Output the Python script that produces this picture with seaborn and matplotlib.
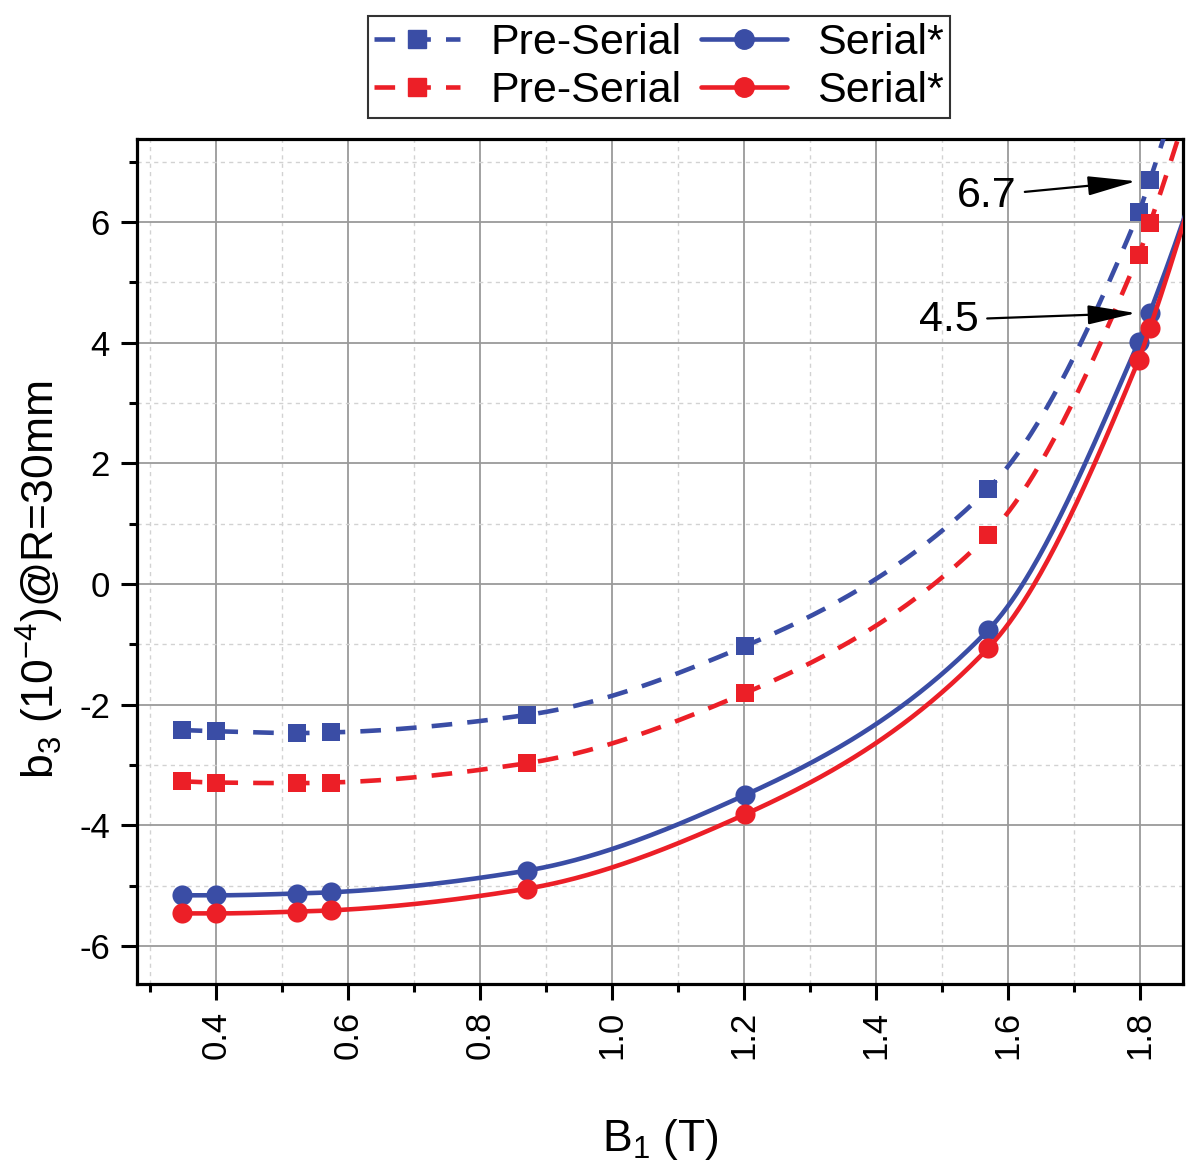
import numpy as np
import pandas as pd
import seaborn as sns
import matplotlib
matplotlib.use("Agg")
import matplotlib.pyplot as plt
from matplotlib.lines import Line2D
from matplotlib.ticker import MultipleLocator, FormatStrFormatter

# Measured sextupole b3 versus central field B1
b1 = [0.348, 0.400, 0.523, 0.574, 0.871, 1.201, 1.570, 1.798, 1.815]
pre_serial_blue = [-2.42, -2.44, -2.47, -2.46, -2.17, -1.03, 1.58, 6.16, 6.7]
pre_serial_red = [-3.27, -3.29, -3.30, -3.29, -2.97, -1.81, 0.81, 5.46, 5.98]
serial_blue = [-5.16, -5.16, -5.13, -5.11, -4.75, -3.50, -0.76, 4.02, 4.5]
serial_red = [-5.46, -5.46, -5.43, -5.41, -5.05, -3.82, -1.06, 3.72, 4.25]

x_ticks = [0.4, 0.6, 0.8, 1.0, 1.2, 1.4, 1.6, 1.8]
y_ticks = [-6, -4, -2, 0, 2, 4, 6]

BLUE = "#3A4DA5"
RED = "#EC1F27"

sns.set_theme(style="white")
plt.rcParams["font.family"] = ["Liberation Sans", "DejaVu Sans"]
plt.rcParams["mathtext.fontset"] = "custom"
plt.rcParams["mathtext.rm"] = "Liberation Sans"
plt.rcParams["mathtext.default"] = "regular"
plt.rcParams["axes.unicode_minus"] = False
plt.rcParams["text.color"] = "black"
plt.rcParams["axes.labelcolor"] = "black"
plt.rcParams["xtick.color"] = "black"
plt.rcParams["ytick.color"] = "black"

XMIN, XMAX = 0.2803, 1.865
YMIN, YMAX = -6.63, 7.378


def pchip(x, y, xs):
    """Shape-preserving cubic Hermite curve through the measured points."""
    x = np.asarray(x, float)
    y = np.asarray(y, float)
    h = np.diff(x)
    d = np.diff(y) / h
    n = len(x)
    m = np.zeros(n)
    for k in range(1, n - 1):
        if d[k - 1] * d[k] > 0:
            w1 = 2 * h[k] + h[k - 1]
            w2 = h[k] + 2 * h[k - 1]
            m[k] = (w1 + w2) / (w1 / d[k - 1] + w2 / d[k])
    m[0] = ((2 * h[0] + h[1]) * d[0] - h[0] * d[1]) / (h[0] + h[1])
    if np.sign(m[0]) != np.sign(d[0]):
        m[0] = 0
    m[-1] = ((2 * h[-1] + h[-2]) * d[-1] - h[-1] * d[-2]) / (h[-1] + h[-2])
    if np.sign(m[-1]) != np.sign(d[-1]):
        m[-1] = 0
    idx = np.clip(np.searchsorted(x, xs) - 1, 0, n - 2)
    t = (xs - x[idx]) / h[idx]
    h00 = 2 * t**3 - 3 * t**2 + 1
    h10 = t**3 - 2 * t**2 + t
    h01 = -2 * t**3 + 3 * t**2
    h11 = t**3 - t**2
    return h00 * y[idx] + h10 * h[idx] * m[idx] + h01 * y[idx + 1] + h11 * h[idx] * m[idx + 1]


def curve(x, y):
    """Smooth curve through the points, continued to the right edge of the axes."""
    xs = np.linspace(x[0], x[-1], 400)
    ys = pchip(x, y, xs)
    # continue past the last point with the quadratic through the last three points
    c = np.polyfit(x[-3:], y[-3:], 2)
    xe = np.linspace(x[-1], XMAX + 0.02, 40)
    ye = np.polyval(c, xe)
    return pd.DataFrame({"B1": np.r_[xs, xe[1:]], "b3": np.r_[ys, ye[1:]]})


fig = plt.figure(figsize=(11.86, 11.68), dpi=100)
ax = fig.add_axes([137 / 1186, 1 - 984 / 1168, (1183 - 137) / 1186, (984 - 139) / 1168])

LW = 3.3
DASH = (0, (4.5, 3.3))

series = [
    (pre_serial_blue, BLUE, DASH, "s", 160),
    (serial_blue, BLUE, "-", "o", 210),
    (pre_serial_red, RED, DASH, "s", 160),
    (serial_red, RED, "-", "o", 210),
]
for i, (vals, col, ls, mk, size) in enumerate(series):
    sns.lineplot(data=curve(b1, vals), x="B1", y="b3", ax=ax, color=col,
                 linewidth=LW, linestyle=ls, sort=False, estimator=None,
                 zorder=3 + i)
    sns.scatterplot(x=b1, y=vals, ax=ax, color=col, marker=mk, s=size,
                    linewidth=0, zorder=3.5 + i)

ax.set_xlim(XMIN, XMAX)
ax.set_ylim(YMIN, YMAX)
ax.set_xticks(x_ticks)
ax.set_yticks(y_ticks)
ax.xaxis.set_minor_locator(MultipleLocator(0.1))
ax.yaxis.set_minor_locator(MultipleLocator(1))
ax.xaxis.set_major_formatter(FormatStrFormatter("%.1f"))
ax.set_xlabel("")
ax.set_ylabel("")

ax.set_axisbelow(True)
ax.grid(which="major", color="#9a9a9a", linewidth=1.3, linestyle="-")
ax.grid(which="minor", color="#d2d2d2", linewidth=1.0, linestyle=(0, (3, 3)))

for sp in ax.spines.values():
    sp.set_visible(True)
    sp.set_color("black")
    sp.set_linewidth(2.3)

ax.tick_params(which="major", direction="out", length=11.5, width=2.2,
               labelsize=25, pad=8, color="black", labelcolor="black",
               bottom=True, left=True, top=False, right=False)
ax.tick_params(which="minor", direction="out", length=6, width=2.2,
               color="black", bottom=True, left=True, top=False, right=False)
ax.tick_params(axis="x", labelrotation=90)

fig.text(40 / 1186, 1 - 580 / 1168, r"b$_3$ (10$^{-4}$)@R=30mm", rotation=90,
         ha="center", va="center", fontsize=32, color="black")
fig.text(660 / 1186, 1 - 1140 / 1168, r"B$_1$ (T)", ha="center", va="center",
         fontsize=32, color="black")

# value call-outs on the top-field points
arrow = dict(arrowstyle="-|>,head_length=1.0,head_width=0.2", color="black",
             lw=1.6, mutation_scale=30, shrinkA=4, shrinkB=10)
ax.annotate(f"{pre_serial_blue[-1]:.1f}", xy=(b1[-1], pre_serial_blue[-1]),
            xytext=(1.612, 6.44), ha="right", va="center", fontsize=31,
            color="black", arrowprops=arrow, zorder=10)
ax.annotate(f"{serial_blue[-1]:.1f}", xy=(b1[-1], serial_blue[-1]),
            xytext=(1.555, 4.38), ha="right", va="center", fontsize=31,
            color="black", arrowprops=arrow, zorder=10)

handles = [
    Line2D([], [], color=BLUE, lw=LW, ls=DASH, marker="s", markersize=12.5),
    Line2D([], [], color=RED, lw=LW, ls=DASH, marker="s", markersize=12.5),
    Line2D([], [], color=BLUE, lw=LW, ls="-", marker="o", markersize=14),
    Line2D([], [], color=RED, lw=LW, ls="-", marker="o", markersize=14),
]
labels = ["Pre-Serial", "Pre-Serial", "Serial*", "Serial*"]
leg = fig.legend(handles, labels, loc="center", ncol=2,
                 bbox_to_anchor=(659 / 1186, 1 - 67 / 1168), fontsize=31,
                 frameon=True, fancybox=False, edgecolor="black",
                 handlelength=2.0, handletextpad=0.7, columnspacing=0.45,
                 labelspacing=0.2, borderpad=0.15, borderaxespad=0)
leg.get_frame().set_linewidth(1.5)
for t in leg.get_texts():
    t.set_color("black")

fig.savefig("out.png", dpi=100)
